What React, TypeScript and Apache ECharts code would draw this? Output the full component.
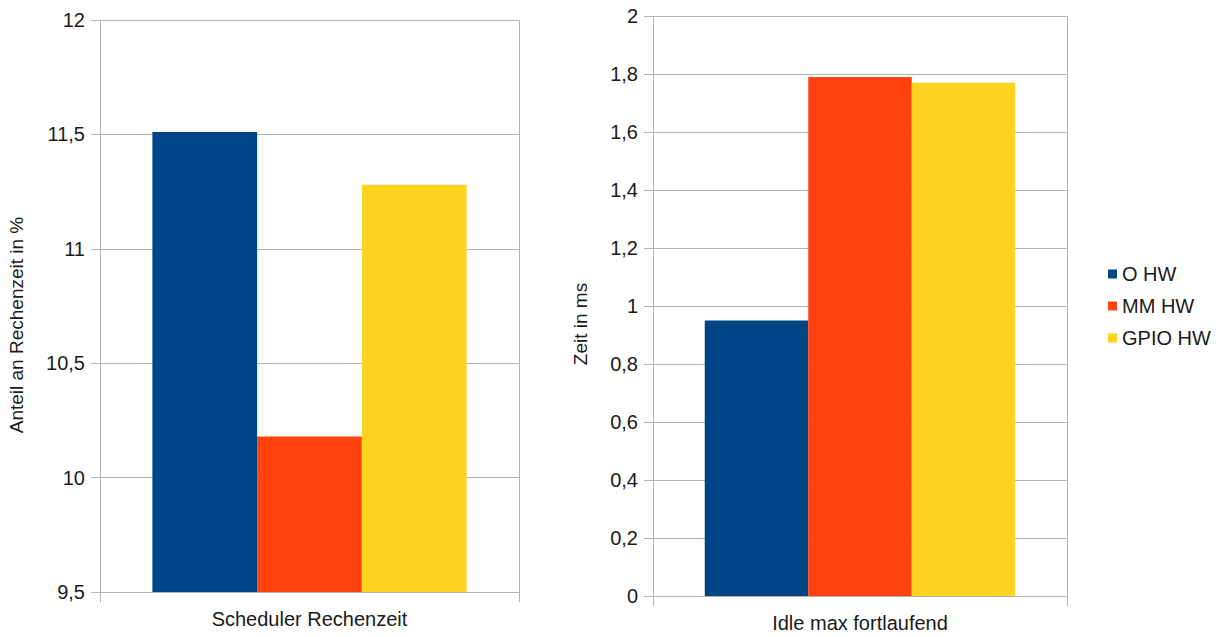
import React, { useEffect, useRef } from "react";
import * as echarts from "echarts";

// Category on each panel
const leftCategories = ["Scheduler Rechenzeit"];
const rightCategories = ["Idle max fortlaufend"];

// Series names (legend)
const seriesNames = ["O HW", "MM HW", "GPIO HW"];
const seriesColors = ["#004586", "#ff420e", "#ffd320"];

// Share of CPU time in % (left panel)
const schedulerShare = [11.51, 10.18, 11.28];
// Maximum continuous idle time in ms (right panel)
const idleMax = [0.95, 1.79, 1.77];

// Axis titles
const leftAxisTitle = "Anteil an Rechenzeit in %";
const rightAxisTitle = "Zeit in ms";

const FONT = "Liberation Sans, Arial, sans-serif";
const TEXT = "#1a1a1a";
const GRID_LINE = "#b3b3b3";

const fmt = (v: number) => String(Number(v.toFixed(2))).replace(".", ",");

export default function App() {
  const ref = useRef<HTMLDivElement>(null);

  useEffect(() => {
    if (!ref.current) return;
    const chart = echarts.init(ref.current, null, { renderer: "svg" });

    const xAxisCommon = {
      type: "category" as const,
      boundaryGap: true,
      axisLine: { show: true, lineStyle: { color: GRID_LINE, width: 1 } },
      axisTick: { show: true, length: 10, lineStyle: { color: GRID_LINE } },
      splitLine: { show: true, lineStyle: { color: GRID_LINE, width: 1 } },
      axisLabel: { color: TEXT, fontSize: 20, fontFamily: FONT, margin: 17 },
    };

    const yAxisCommon = {
      type: "value" as const,
      axisLine: { show: false },
      axisTick: { show: true, length: 9, lineStyle: { color: GRID_LINE } },
      splitLine: { show: true, lineStyle: { color: GRID_LINE, width: 1 } },
      axisLabel: { color: TEXT, fontSize: 20, fontFamily: FONT, margin: 15, formatter: fmt },
    };

    const series: any[] = [];
    seriesNames.forEach((name, i) => {
      series.push({
        name,
        type: "bar",
        xAxisIndex: 0,
        yAxisIndex: 0,
        data: [schedulerShare[i]],
        itemStyle: { color: seriesColors[i] },
        barGap: "0%",
        barCategoryGap: "25%",
      });
    });
    seriesNames.forEach((name, i) => {
      series.push({
        name,
        type: "bar",
        xAxisIndex: 1,
        yAxisIndex: 1,
        data: [idleMax[i]],
        itemStyle: { color: seriesColors[i] },
        barGap: "0%",
        barCategoryGap: "25%",
      });
    });

    const axisTitle = (text: string, x: number, y: number) => ({
      type: "text",
      x,
      y,
      rotation: Math.PI / 2,
      style: {
        text,
        fill: TEXT,
        fontSize: 19,
        fontFamily: FONT,
        align: "center",
        verticalAlign: "middle",
      },
    });

    chart.setOption({
      animation: false,
      backgroundColor: "#ffffff",
      textStyle: { fontFamily: FONT },
      grid: [
        { left: 100, top: 20, width: 419, height: 572, containLabel: false },
        { left: 653, top: 16, width: 414, height: 580, containLabel: false },
      ],
      xAxis: [
        { ...xAxisCommon, gridIndex: 0, data: leftCategories },
        { ...xAxisCommon, gridIndex: 1, data: rightCategories },
      ],
      yAxis: [
        { ...yAxisCommon, gridIndex: 0, min: 9.5, max: 12, interval: 0.5 },
        { ...yAxisCommon, gridIndex: 1, min: 0, max: 2, interval: 0.2 },
      ],
      graphic: [axisTitle(leftAxisTitle, 16, 325), axisTitle(rightAxisTitle, 580, 324)],
      legend: {
        orient: "vertical",
        left: 1103,
        top: 259,
        itemWidth: 9,
        itemHeight: 9,
        itemGap: 12,
        icon: "rect",
        data: seriesNames,
        textStyle: { color: TEXT, fontSize: 20, fontFamily: FONT },
      },
      series,
    });

    return () => chart.dispose();
  }, []);

  return (
    <div
      ref={ref}
      style={{ position: "fixed", left: 0, top: 0, width: 1225, height: 637 }}
    />
  );
}
